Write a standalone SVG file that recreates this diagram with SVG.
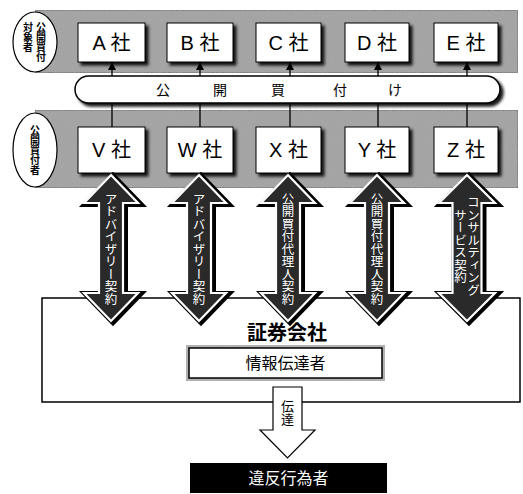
<svg xmlns="http://www.w3.org/2000/svg" xmlns:xlink="http://www.w3.org/1999/xlink" width="523" height="494" viewBox="0 0 523 494">
<defs>
<style>
.lbl{font-family:"Liberation Sans","Noto Sans CJK JP",sans-serif;font-size:20px;fill:#000;text-anchor:middle}
.jp{font-family:"Noto Sans CJK JP",sans-serif}
.vt{writing-mode:vertical-rl;text-anchor:middle;font-family:"Noto Sans CJK JP",sans-serif}
.varrow{font-size:12.5px;fill:#fff}
.box{fill:#fff;stroke:#000;stroke-width:1}
.band{fill:#a3a3a3;stroke:#555;stroke-width:1}
.ell{fill:#fff;stroke:#000;stroke-width:1.2}
.conn{stroke:#000;stroke-width:1.3;fill:none}
.dout{stroke:#000;stroke-width:6;fill:#2a2a2a}
.din{stroke:#fff;stroke-width:2.2;fill:#2a2a2a}
</style>
<filter id="sh" x="-20%" y="-20%" width="140%" height="140%">
<feDropShadow dx="3" dy="3" stdDeviation="1.5" flood-color="#000" flood-opacity="0.9"/>
</filter>
<filter id="grain" x="0" y="0" width="100%" height="100%">
<feTurbulence type="fractalNoise" baseFrequency="0.9" numOctaves="2" seed="3" result="n"/>
<feColorMatrix in="n" type="matrix" values="0 0 0 0 0.4  0 0 0 0 0.4  0 0 0 0 0.4  0 0 0 1.2 -0.3" result="g"/>
<feComposite in="g" in2="SourceGraphic" operator="in" result="gi"/>
<feMerge><feMergeNode in="SourceGraphic"/><feMergeNode in="gi"/></feMerge>
</filter>
<marker id="ah" viewBox="0 0 10 10" refX="10" refY="5" markerWidth="8" markerHeight="8" markerUnits="userSpaceOnUse" orient="auto">
<path d="M0,0 L10,5 L0,10 Z" fill="#000"/>
</marker>
<path id="dbl" d="M0,175 L27,203 L12,203 L12,293 L27,293 L0,321 L-27,293 L-12,293 L-12,203 L-27,203 Z"/>
<path id="dblw" d="M0,175 L28,203 L14.5,203 L14.5,293 L28,293 L0,321 L-28,293 L-14.5,293 L-14.5,203 L-28,203 Z"/>
</defs>

<!-- bands -->
<g id="band-top">
<rect class="band" x="35" y="10" width="483" height="63" filter="url(#grain)"/>
<ellipse class="ell" cx="35" cy="42" rx="22" ry="30"/>
<text class="vt" x="41" y="42" font-size="10" font-weight="bold">公開買付</text>
<text class="vt" x="28" y="37" font-size="10" font-weight="bold">対象者</text>
</g>
<g id="band-bottom">
<rect class="band" x="35" y="110" width="483" height="78" filter="url(#grain)"/>
<ellipse class="ell" cx="35" cy="150" rx="22" ry="37"/>
<text class="vt" x="35" y="150" font-size="10" font-weight="bold">公開買付者</text>
</g>

<!-- connectors -->
<g id="connectors">
<line class="conn" x1="112" y1="127" x2="112" y2="62" marker-end="url(#ah)"/>
<line class="conn" x1="200" y1="127" x2="200" y2="62" marker-end="url(#ah)"/>
<line class="conn" x1="290" y1="127" x2="290" y2="62" marker-end="url(#ah)"/>
<line class="conn" x1="378" y1="127" x2="378" y2="62" marker-end="url(#ah)"/>
<line class="conn" x1="467" y1="127" x2="467" y2="62" marker-end="url(#ah)"/>
</g>

<!-- tender offer pill -->
<g id="pill">
<rect x="75" y="76" width="425" height="27" rx="13.5" fill="#fff" stroke="#000" stroke-width="1.5" filter="url(#sh)"/>
<g class="jp" font-size="14" text-anchor="middle">
<text x="163" y="95">公</text>
<text x="220" y="95">開</text>
<text x="278" y="95">買</text>
<text x="340" y="95">付</text>
<text x="395" y="95">け</text>
</g>
</g>

<!-- target companies -->
<g id="A"><rect class="box" x="78" y="23" width="67" height="39" filter="url(#sh)"/><text class="lbl" x="111.5" y="50">A 社</text></g>
<g id="B"><rect class="box" x="167" y="23" width="66" height="39" filter="url(#sh)"/><text class="lbl" x="200" y="50">B 社</text></g>
<g id="C"><rect class="box" x="256" y="23" width="65" height="39" filter="url(#sh)"/><text class="lbl" x="288.5" y="50">C 社</text></g>
<g id="D"><rect class="box" x="345" y="23" width="64" height="39" filter="url(#sh)"/><text class="lbl" x="377" y="50">D 社</text></g>
<g id="E"><rect class="box" x="434" y="23" width="64" height="39" filter="url(#sh)"/><text class="lbl" x="466" y="50">E 社</text></g>

<!-- bidders -->
<g id="V"><rect class="box" x="78" y="127" width="67" height="46" filter="url(#sh)"/><text class="lbl" x="111.5" y="157">V 社</text></g>
<g id="W"><rect class="box" x="167" y="127" width="66" height="46" filter="url(#sh)"/><text class="lbl" x="200" y="157">W 社</text></g>
<g id="X"><rect class="box" x="256" y="127" width="65" height="46" filter="url(#sh)"/><text class="lbl" x="288.5" y="157">X 社</text></g>
<g id="Y"><rect class="box" x="345" y="127" width="64" height="46" filter="url(#sh)"/><text class="lbl" x="377" y="157">Y 社</text></g>
<g id="Z"><rect class="box" x="434" y="127" width="64" height="46" filter="url(#sh)"/><text class="lbl" x="466" y="157">Z 社</text></g>

<!-- securities company -->
<g id="securities">
<rect x="42" y="298" width="478" height="104" fill="#fff" stroke="#000" stroke-width="1.5"/>
<text class="jp" x="287" y="340" font-size="20" font-weight="bold" text-anchor="middle">証券会社</text>
</g>

<!-- double arrows -->
<g id="arrows">
<use xlink:href="#dbl" href="#dbl" class="dout" transform="translate(113,1)"/>
<use xlink:href="#dbl" href="#dbl" class="din" transform="translate(111,0)"/>
<use xlink:href="#dbl" href="#dbl" class="dout" transform="translate(201,1)"/>
<use xlink:href="#dbl" href="#dbl" class="din" transform="translate(199,0)"/>
<use xlink:href="#dbl" href="#dbl" class="dout" transform="translate(290,1)"/>
<use xlink:href="#dbl" href="#dbl" class="din" transform="translate(288,0)"/>
<use xlink:href="#dbl" href="#dbl" class="dout" transform="translate(379,1)"/>
<use xlink:href="#dbl" href="#dbl" class="din" transform="translate(377,0)"/>
<use xlink:href="#dblw" href="#dblw" class="dout" transform="translate(469,1)"/>
<use xlink:href="#dblw" href="#dblw" class="din" transform="translate(467,0)"/>
<text class="vt varrow" x="111" y="249">アドバイザリー契約</text>
<text class="vt varrow" x="199" y="249">アドバイザリー契約</text>
<text class="vt varrow" x="288" y="249">公開買付代理人契約</text>
<text class="vt varrow" x="377" y="249">公開買付代理人契約</text>
<text class="vt varrow" x="473.5" y="246" font-size="11">コンサルティング</text>
<text class="vt varrow" x="460.5" y="246" font-size="11">サービス契約</text>
</g>

<!-- information transmitter -->
<g id="transmitter">
<rect x="186" y="345" width="199" height="36" fill="#b5b5b5" filter="url(#grain)"/>
<rect x="189" y="348" width="193" height="30" fill="#fff" stroke="#000" stroke-width="1.5"/>
<text class="jp" x="285.5" y="369" font-size="16" text-anchor="middle">情報伝達者</text>
</g>

<!-- transmission arrow -->
<g id="transmit-arrow">
<path d="M273,387 L302,387 L302,430 L315,430 L287.5,458 L260,430 L273,430 Z" fill="#fff" stroke="#000" stroke-width="1.2"/>
<text class="vt" x="287.5" y="413" font-size="13">伝達</text>
</g>

<!-- violator -->
<g id="violator">
<rect x="190" y="463" width="197" height="30" fill="#000"/>
<text class="jp" x="288.5" y="484" font-size="16" fill="#fff" text-anchor="middle">違反行為者</text>
</g>
</svg>
